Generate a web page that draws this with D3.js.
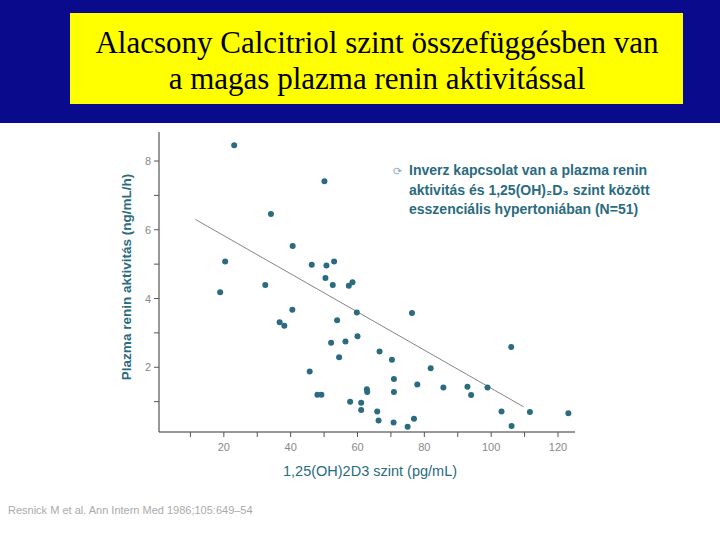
<!DOCTYPE html><html><head><meta charset="utf-8"><script src="https://d3js.org/d3.v7.min.js"></script>
<style>body{margin:0}</style></head><body><script>
const xVals=[23.1,20.4,18.9,34.1,32.4,40.6,40.5,36.7,38.1,50.1,46.3,50.7,53.0,50.4,52.6,57.4,58.5,59.8,53.9,60.0,52.1,56.4,54.5,66.6,70.3,45.7,48.0,49.2,57.8,61.1,61.1,62.8,62.9,65.9,66.3,70.8,70.9,70.9,75.0,76.9,76.3,77.9,81.9,85.7,92.9,94.0,98.9,103.1,106.0,106.1,111.6,123.1];
const yVals=[8.46,5.08,4.18,6.46,4.39,5.53,3.67,3.31,3.21,7.41,4.98,4.96,5.08,4.60,4.39,4.37,4.47,3.59,3.37,2.90,2.71,2.75,2.29,2.46,2.22,1.88,1.20,1.20,1.00,0.97,0.76,1.36,1.28,0.71,0.45,0.39,1.66,1.28,0.27,0.50,3.58,1.50,1.97,1.41,1.43,1.19,1.41,0.71,2.59,0.29,0.70,0.66];
const trendX=[11.5,109.7], trendY=[6.3,0.85];
const xTicks=[20,40,60,80,100,120], xTickLabels=["20","40","60","80","100","120"];
const yTicks=[2,4,6,8];
const title=["Alacsony Calcitriol szint összefüggésben van","a magas plazma renin aktivitással"];
const note=["Inverz kapcsolat van a plazma renin","aktivitás és 1,25(OH)₂D₃ szint között","esszenciális hypertoniában (N=51)"];
const svg=d3.select("body").append("svg").attr("width",720).attr("height",540);
svg.append("rect").attr("width",720).attr("height",540).attr("fill","#fff");
svg.append("rect").attr("width",720).attr("height",123).attr("fill","#0a0a8c");
svg.append("rect").attr("x",70).attr("y",13).attr("width",613).attr("height",91).attr("fill","#ffff00");
svg.selectAll(".t").data(title).join("text").attr("x",377).attr("y",(d,i)=>53+i*36).attr("text-anchor","middle")
 .attr("font-family","Liberation Serif").attr("font-size",31).text(d=>d);
const x=d3.scaleLinear().domain([0,120]).range([157,558]);
const y=d3.scaleLinear().domain([0,8]).range([436,161]);
const c="#2a6b80";
const g=svg.append("g");
g.append("line").attr("x1",159).attr("x2",159).attr("y1",132).attr("y2",432).attr("stroke","#333");
g.append("line").attr("x1",159).attr("x2",575).attr("y1",432).attr("y2",432).attr("stroke","#333");
d3.range(10,121,10).forEach(v=>g.append("line").attr("x1",x(v)).attr("x2",x(v)).attr("y1",432).attr("y2",437).attr("stroke","#555"));
d3.range(1,9).forEach(v=>g.append("line").attr("x1",154).attr("x2",159).attr("y1",y(v)).attr("y2",y(v)).attr("stroke","#555"));
g.selectAll(".xl").data(xTicks).join("text").attr("x",d=>x(d)).attr("y",451).attr("text-anchor","middle")
 .attr("font-family","Liberation Sans").attr("font-size",11).attr("fill","#888").text((d,i)=>xTickLabels[i]);
g.selectAll(".yl").data(yTicks).join("text").attr("x",148).attr("y",d=>y(d)+4).attr("text-anchor","middle")
 .attr("font-family","Liberation Sans").attr("font-size",11).attr("fill","#888").text(d=>d);
g.append("line").attr("x1",x(trendX[0])).attr("y1",y(trendY[0])).attr("x2",x(trendX[1])).attr("y2",y(trendY[1])).attr("stroke","#666").attr("stroke-width",0.8);
g.selectAll("circle").data(xVals).join("circle").attr("cx",d=>x(d)).attr("cy",(d,i)=>y(yVals[i])).attr("r",3).attr("fill",c);
svg.append("text").attr("x",370).attr("y",476).attr("text-anchor","middle").attr("font-family","Liberation Sans").attr("font-size",14.5).attr("fill",c).text("1,25(OH)2D3 szint (pg/mL)");
svg.append("text").attr("transform","translate(131,277) rotate(-90)").attr("text-anchor","middle").attr("font-family","Liberation Sans").attr("font-size",13.5).attr("font-weight","bold").attr("fill",c).text("Plazma renin aktivitás (ng/mL/h)");
svg.append("text").attr("x",393).attr("y",175).attr("font-size",11).attr("fill","#8ab").text("⟳");
svg.selectAll(".n").data(note).join("text").attr("x",409).attr("y",(d,i)=>175+i*19.5).attr("font-family","Liberation Sans").attr("font-size",14).attr("font-weight","bold").attr("fill",c).text(d=>d);
svg.append("text").attr("x",8).attr("y",514).attr("font-family","Liberation Sans").attr("font-size",11).attr("fill","#aaa").text("Resnick M et al. Ann Intern Med 1986;105:649–54");
</script></body></html>
